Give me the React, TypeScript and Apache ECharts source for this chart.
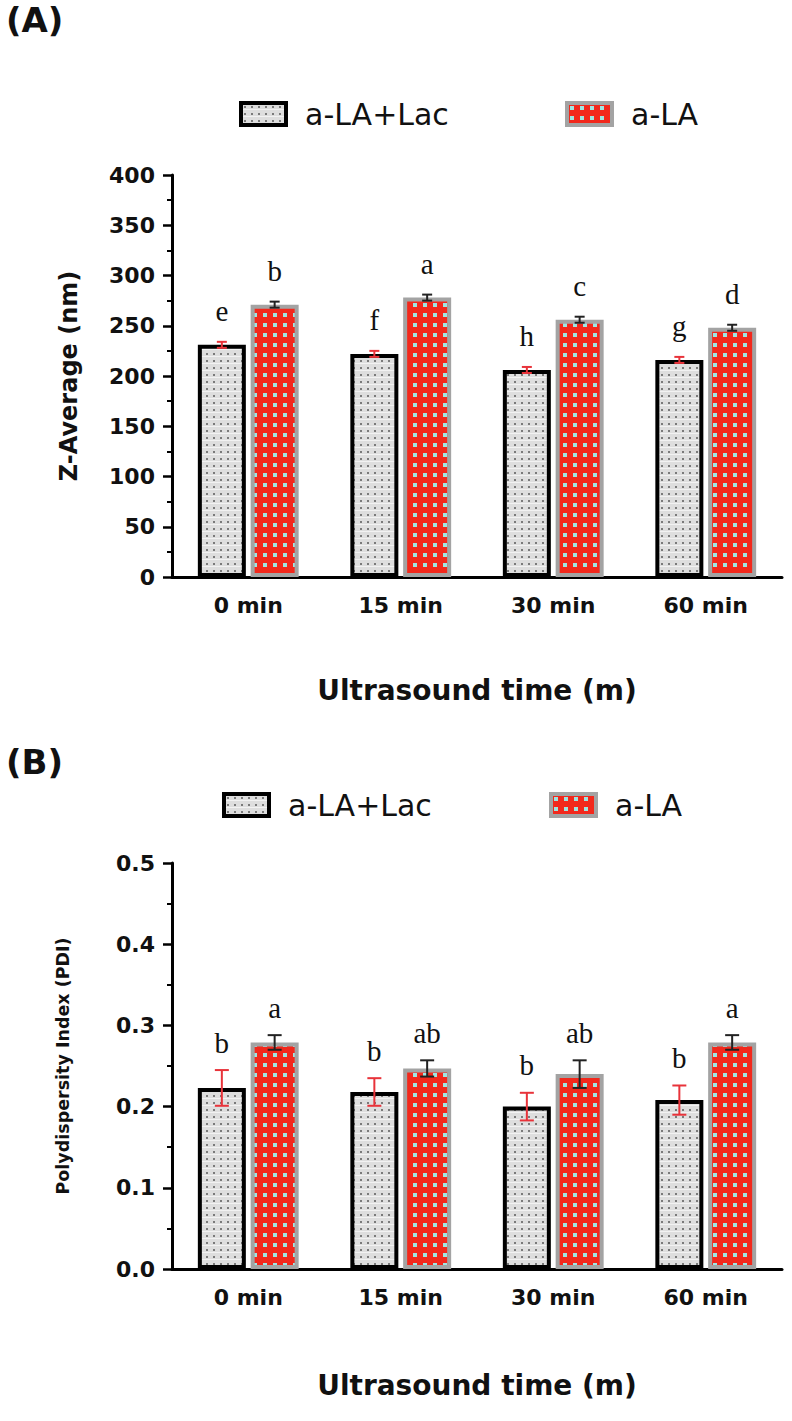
import React, { useEffect, useRef } from "react";
import * as echarts from "echarts";

const categories = ["0 min", "15 min", "30 min", "60 min"];
const seriesNames = ["a-LA+Lac", "a-LA"];

// Panel A: Z-Average (nm)
const zLac = [231, 222, 206, 216];
const zLacErr = [3, 3, 3, 3];
const zLa = [271, 278, 256, 248];
const zLaErr = [3, 3, 3, 3];
const zLacLetters = ["e", "f", "h", "g"];
const zLaLetters = ["b", "a", "c", "d"];

// Panel B: PDI
const pLac = [0.223, 0.218, 0.2, 0.208];
const pLacErr = [0.022, 0.017, 0.017, 0.018];
const pLa = [0.279, 0.247, 0.24, 0.279];
const pLaErr = [0.009, 0.01, 0.017, 0.009];
const pLacLetters = ["b", "b", "b", "b"];
const pLaLetters = ["a", "ab", "ab", "a"];

const zTicks = { min: 0, max: 400, interval: 50 };
const pTicks = { min: 0, max: 0.5, interval: 0.1 };

const SANS = "'DejaVu Sans', 'Liberation Sans', sans-serif";
const SERIF = "'Liberation Serif', 'DejaVu Serif', serif";

function makeLacPattern() {
  const c = document.createElement("canvas");
  c.width = 7;
  c.height = 7;
  const g = c.getContext("2d")!;
  g.fillStyle = "#dedede";
  g.fillRect(0, 0, 7, 7);
  g.fillStyle = "#f2f2f2";
  g.fillRect(0, 6, 7, 1);
  g.fillStyle = "#7a7a7a";
  g.fillRect(3, 3, 2, 2);
  return { image: c, repeat: "repeat", imageWidth: 7, imageHeight: 7 } as any;
}

function makeLaPattern() {
  const c = document.createElement("canvas");
  c.width = 10;
  c.height = 10;
  const g = c.getContext("2d")!;
  g.fillStyle = "#f2281c";
  g.fillRect(0, 0, 10, 10);
  g.fillStyle = "#9fe6e2";
  g.fillRect(3, 3, 4, 4);
  return { image: c, repeat: "repeat", imageWidth: 10, imageHeight: 10 } as any;
}

const BAR_W = 48;
const OFFSET = 26.4;

function errSeries(
  vals: number[],
  errs: number[],
  letters: string[],
  color: string,
  offset: number,
  idx: number,
  capW: number,
  letterGap: number
) {
  return {
    type: "custom",
    name: "err" + idx + color,
    xAxisIndex: idx,
    yAxisIndex: idx,
    z: 10,
    data: vals.map((v, i) => [i, v, errs[i]]),
    encode: { x: 0, y: 1 },
    renderItem: (params: any, api: any) => {
      const i = api.value(0);
      const v = api.value(1);
      const e = api.value(2);
      const top = api.coord([i, v + e]);
      const bot = api.coord([i, v - e]);
      const x = top[0] + offset;
      const ls = { stroke: color, lineWidth: 2 };
      return {
        type: "group",
        children: [
          { type: "line", shape: { x1: x, y1: top[1], x2: x, y2: bot[1] }, style: ls },
          { type: "line", shape: { x1: x - capW / 2, y1: top[1], x2: x + capW / 2, y2: top[1] }, style: ls },
          { type: "line", shape: { x1: x - capW / 2, y1: bot[1], x2: x + capW / 2, y2: bot[1] }, style: ls },
          {
            type: "text",
            x: x,
            y: top[1] - letterGap,
            style: {
              text: letters[params.dataIndex],
              fontFamily: SERIF,
              fontSize: 29,
              fill: "#111",
              align: "center",
              verticalAlign: "bottom",
            },
          },
        ],
      };
    },
  };
}

export default function App() {
  const ref = useRef<HTMLDivElement>(null);
  useEffect(() => {
    if (!ref.current) return;
    const chart = echarts.init(ref.current, undefined, { renderer: "svg" });
    const lacFill = makeLacPattern();
    const laFill = makeLaPattern();

    const axisLabel = { fontFamily: SANS, fontWeight: "bold", fontSize: 22, color: "#111" };
    const xAxis = (gi: number, gap: number) => ({
      type: "category",
      gridIndex: gi,
      data: categories,
      axisLine: { lineStyle: { color: "#000", width: 3 } },
      axisTick: { alignWithLabel: true, length: 8, lineStyle: { color: "#000", width: 3 } },
      axisLabel: { ...axisLabel, margin: 17 },
      name: "Ultrasound time (m)",
      nameLocation: "middle",
      nameGap: gap,
      nameTextStyle: { fontFamily: SANS, fontWeight: "bold", fontSize: 28, color: "#111" },
    });
    const yAxis = (gi: number, t: any, name: string, gap: number, size: number, fmt: (v: number) => string) => ({
      type: "value",
      gridIndex: gi,
      min: t.min,
      max: t.max,
      interval: t.interval,
      axisLine: { show: true, lineStyle: { color: "#000", width: 3 } },
      axisTick: { show: true, length: 9, lineStyle: { color: "#000", width: 2.5 } },
      minorTick: { show: true, splitNumber: 2, length: 5, lineStyle: { color: "#000", width: 2 } },
      splitLine: { show: false },
      axisLabel: { ...axisLabel, margin: 17, formatter: fmt },
      name,
      nameLocation: "middle",
      nameGap: gap,
      nameTextStyle: { fontFamily: SANS, fontWeight: "bold", fontSize: size, color: "#111" },
    });
    const legendBase = {
      padding: 0,
      itemWidth: 45,
      itemHeight: 22,
      icon: "rect",
      selectedMode: false,
      textStyle: { fontFamily: SANS, fontSize: 30, color: "#111", padding: [0, 0, 0, 14] },
      itemStyle: { borderWidth: 4 },
    };
    const barSeries = (name: string, vals: number[], idx: number, fill: any, border: string) => ({
      type: "bar",
      name,
      xAxisIndex: idx,
      yAxisIndex: idx,
      data: vals,
      barWidth: BAR_W,
      barGap: "10%",
      itemStyle: { color: fill, borderColor: border, borderWidth: 4 },
    });

    chart.setOption({
      animation: false,
      backgroundColor: "#fff",
      grid: [
        { left: 172, top: 175, width: 610, height: 402 },
        { left: 172, top: 863, width: 610, height: 406 },
      ],
      legend: [
        { ...legendBase, data: [seriesNames[0]], left: 239, top: 99 },
        { ...legendBase, data: [seriesNames[1]], left: 565, top: 99 },
        { ...legendBase, data: [seriesNames[0]], left: 222, top: 790 },
        { ...legendBase, data: [seriesNames[1]], left: 549, top: 790 },
      ],
      xAxis: [xAxis(0, 99), xAxis(1, 102)],
      yAxis: [
        yAxis(0, zTicks, "Z-Average (nm)", 91, 24, (v: number) => String(v)),
        yAxis(1, pTicks, "Polydispersity Index (PDI)", 100, 17.5, (v: number) => v.toFixed(1)),
      ],
      graphic: [
        { type: "text", left: 6, top: 3, style: { text: "(A)", fontFamily: SANS, fontWeight: "bold", fontSize: 34, fill: "#111" } },
        { type: "text", left: 6, top: 745, style: { text: "(B)", fontFamily: SANS, fontWeight: "bold", fontSize: 34, fill: "#111" } },
      ],
      series: [
        barSeries(seriesNames[0], zLac, 0, lacFill, "#000"),
        barSeries(seriesNames[1], zLa, 0, laFill, "#a3a3a3"),
        barSeries(seriesNames[0], pLac, 1, lacFill, "#000"),
        barSeries(seriesNames[1], pLa, 1, laFill, "#a3a3a3"),
        errSeries(zLac, zLacErr, zLacLetters, "#e8333a", -OFFSET, 0, 10, 16),
        errSeries(zLa, zLaErr, zLaLetters, "#222", OFFSET, 0, 10, 16),
        errSeries(pLac, pLacErr, pLacLetters, "#e8333a", -OFFSET, 1, 14, 13),
        errSeries(pLa, pLaErr, pLaLetters, "#222", OFFSET, 1, 14, 13),
      ],
    });
    return () => chart.dispose();
  }, []);
  return (
    <div
      ref={ref}
      style={{ position: "absolute", left: 0, top: 0, width: 792, height: 1421, background: "#fff" }}
    />
  );
}
